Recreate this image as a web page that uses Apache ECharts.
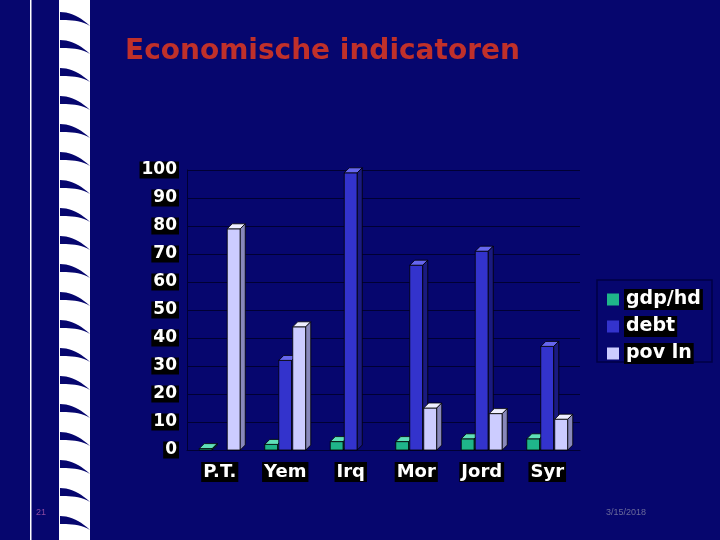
<!DOCTYPE html>
<html>
<head>
<meta charset="utf-8">
<script src="https://cdn.jsdelivr.net/npm/echarts@6/dist/echarts.min.js"></script>
<style>html,body{margin:0;padding:0;background:#06066e;}#main{width:720px;height:540px;}</style>
</head>
<body>
<div id="main"></div>
<script>
var categories = ['P.T.', 'Yem', 'Irq', 'Mor', 'Jord', 'Syr'];
var gdpData = [0.5, 2, 3, 3, 4, 4];
var debtData = [0, 32, 99, 66, 71, 37];
var povData = [79, 44, 0, 15, 13, 11];
var seriesNames = ['gdp/hd', 'debt', 'pov ln'];

function bar3d(values, off, front, top, side){
    return function(params, api){
        var v = api.value(1);
        if (!v) return;
        var p = api.coord([api.value(0), v]);
        var b = api.coord([api.value(0), 0]);
        var w = 13, d = 5;
        var x = p[0] + off - w / 2, y = p[1], y0 = b[1];
        return {
            type: 'group',
            children: [
                {type: 'rect', shape: {x: x, y: y, width: w, height: y0 - y}, style: {fill: front, stroke: '#000', lineWidth: 0.8}},
                {type: 'polygon', shape: {points: [[x, y], [x + w, y], [x + w + d, y - d], [x + d, y - d]]}, style: {fill: top, stroke: '#000', lineWidth: 0.8}},
                {type: 'polygon', shape: {points: [[x + w, y], [x + w + d, y - d], [x + w + d, y0 - d], [x + w, y0]]}, style: {fill: side, stroke: '#000', lineWidth: 0.8}}
            ]
        };
    };
}
function toData(arr){
    return arr.map(function(v, i){ return [i, v]; });
}

// decorative blue crescents over the white strip
var decor = [
    {type: 'rect', shape: {x: 60, y: 0, width: 30, height: 540}, style: {fill: '#ffffff'}},
    {type: 'rect', shape: {x: 30, y: 0, width: 1.5, height: 540}, style: {fill: '#ffffff'}},
    {type: 'rect', shape: {x: 59, y: 0, width: 1.5, height: 540}, style: {fill: '#ffffff'}}
];
for (var i = 0; i < 19; i++) {
    var y = i * 28 + 12, pts = [];
    for (var t = 0; t <= 10; t++) {
        var s = t / 10;
        pts.push([60 + 30 * s, y + 14 * s * s]);
    }
    for (var t2 = 10; t2 >= 0; t2--) {
        var s2 = t2 / 10;
        pts.push([60 + 30 * s2, y + 8 + 6 * s2 * s2 * s2]);
    }
    decor.push({type: 'polygon', silent: true, shape: {points: pts}, style: {fill: '#06066e'}});
}
decor.push({type: 'rect', shape: {x: 597, y: 280, width: 115, height: 82}, style: {fill: 'none', stroke: '#000044', lineWidth: 1.5}});
decor.push({type: 'text', left: 36, top: 508, style: {text: '21', fill: '#8a4aa0', fontSize: 9}});
decor.push({type: 'text', left: 606, top: 508, style: {text: '3/15/2018', fill: '#6a6a9a', fontSize: 9}});

var chart = echarts.init(document.getElementById('main'));
var option = {
    backgroundColor: '#06066e',
    title: {
        text: 'Economische indicatoren',
        left: 120, top: 33,
        textStyle: {color: '#c0302a', fontSize: 28, fontWeight: 'bold', fontFamily: 'DejaVu Sans'}
    },
    graphic: decor,
    legend: {
        orient: 'vertical', left: 602, top: 284, itemGap: 6,
        itemWidth: 12, itemHeight: 12, icon: 'rect',
        data: seriesNames,
        textStyle: {color: '#fff', fontSize: 19, fontWeight: 'bold', fontFamily: 'DejaVu Sans', backgroundColor: '#000', padding: [1, 2]}
    },
    grid: {left: 187, right: 140, top: 170, bottom: 90},
    xAxis: {
        type: 'category', data: categories,
        axisLine: {lineStyle: {color: '#000033'}}, axisTick: {show: false},
        axisLabel: {color: '#fff', fontSize: 18, fontWeight: 'bold', fontFamily: 'DejaVu Sans', backgroundColor: '#000', padding: [1, 2], margin: 12}
    },
    yAxis: {
        type: 'value', min: 0, max: 100, interval: 10,
        axisLine: {show: true, lineStyle: {color: '#000033'}}, axisTick: {show: false},
        splitLine: {lineStyle: {color: '#000033'}},
        axisLabel: {color: '#fff', fontSize: 17, fontWeight: 'bold', fontFamily: 'DejaVu Sans', backgroundColor: '#000', padding: [0, 2], margin: 8}
    },
    series: [
        {name: seriesNames[0], type: 'custom', renderItem: bar3d(gdpData, -14, '#1fb58a', '#5fe0b8', '#0f7a5a'), data: toData(gdpData), itemStyle: {color: '#1fb58a'}},
        {name: seriesNames[1], type: 'custom', renderItem: bar3d(debtData, 0, '#3333cc', '#6666ee', '#1a1a80'), data: toData(debtData), itemStyle: {color: '#3333cc'}},
        {name: seriesNames[2], type: 'custom', renderItem: bar3d(povData, 14, '#ccccff', '#eeeeff', '#8888bb'), data: toData(povData), itemStyle: {color: '#ccccff'}}
    ]
};
chart.setOption(option);
</script>
</body>
</html>
